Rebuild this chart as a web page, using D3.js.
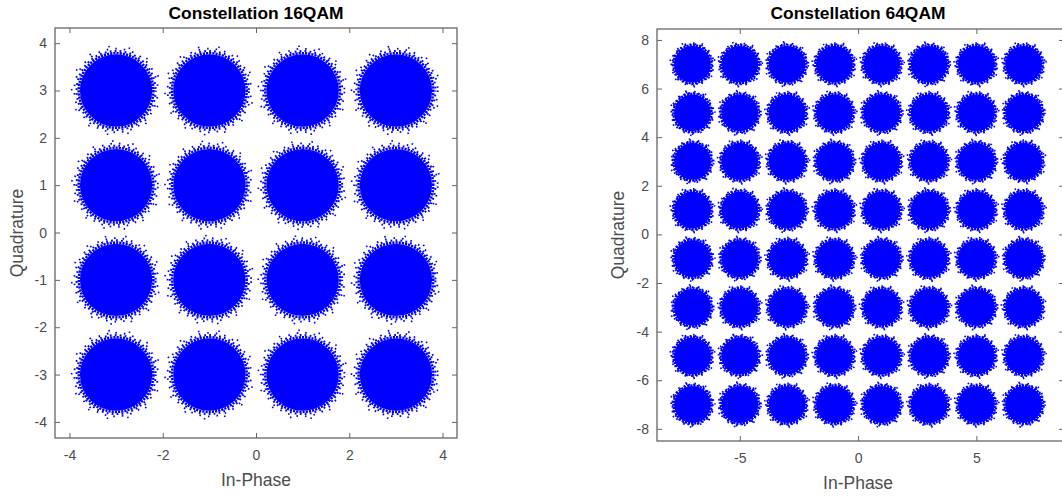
<!DOCTYPE html>
<html>
<head>
<meta charset="utf-8">
<script src="https://cdn.jsdelivr.net/npm/d3@7"></script>
<style>
  html, body { margin: 0; padding: 0; background: #fff; }
  svg { display: block; font-family: "Liberation Sans", Arial, Helvetica, sans-serif; }
</style>
</head>
<body>
<svg id="chart" width="1062" height="498"></svg>
<script>
// ---- data ----
const levels16 = [-3, -1, 1, 3];
const levels64 = [-7, -5, -3, -1, 1, 3, 5, 7];
const clusterRadius16 = 0.8;   // spread of each noisy cluster (data units)
const clusterRadius64 = 0.8;
const xTicks16 = [-4, -2, 0, 2, 4];
const yTicks16 = [-4, -3, -2, -1, 0, 1, 2, 3, 4];
const xTicks64 = [-5, 0, 5];
const yTicks64 = [-8, -6, -4, -2, 0, 2, 4, 6, 8];
const titles = ["Constellation 16QAM", "Constellation 64QAM"];
const xLabel = "In-Phase";
const yLabel = "Quadrature";

const svg = d3.select("#chart");
const BLUE = "#0000ff";
const AXIS = "#666666";
const TEXT = "#4d4d4d";

function grid(levels) {
  const pts = [];
  levels.forEach(i => levels.forEach(q => pts.push({i, q})));
  return pts;
}

// fringe rings: [radius factor, stroke width, dash pattern]
const fringe = [
  [1.00, 2.6, "2.2 1.0"],
  [1.06, 2.0, "1.8 3.2"],
  [1.12, 1.8, "1.6 7"],
  [1.19, 1.6, "1.6 19"]
];

function panel(cfg) {
  const g = svg.append("g");
  const x = d3.scaleLinear().domain(cfg.xDomain).range([cfg.left, cfg.right]);
  const y = d3.scaleLinear().domain(cfg.yDomain).range([cfg.bottom, cfg.top]);
  const clipId = "clip" + cfg.id;
  svg.append("clipPath").attr("id", clipId).append("rect")
    .attr("x", cfg.left).attr("y", cfg.top)
    .attr("width", cfg.right - cfg.left).attr("height", cfg.bottom - cfg.top);

  const pts = grid(cfg.levels);
  const pxR = Math.abs(x(cfg.r) - x(0));
  const marks = g.append("g").attr("clip-path", `url(#${clipId})`);
  // dense core
  marks.selectAll("circle.core").data(pts).join("circle")
    .attr("class", "core")
    .attr("cx", d => x(d.i)).attr("cy", d => y(d.q))
    .attr("r", pxR * 0.97)
    .attr("fill", BLUE);
  // speckled fringe
  fringe.forEach((f, k) => {
    marks.selectAll("circle.ring" + k).data(pts).join("circle")
      .attr("class", "ring" + k)
      .attr("cx", d => x(d.i)).attr("cy", d => y(d.q))
      .attr("r", pxR * f[0])
      .attr("fill", "none").attr("stroke", BLUE).attr("stroke-width", f[1])
      .attr("stroke-dasharray", f[2])
      .attr("stroke-dashoffset", (d, j) => (j * 3.7 + k * 5.3) % 11);
  });

  // axes (ticks inside, box on)
  const tl = 5;
  const fmt = d => d < 0 ? "-" + Math.abs(d) : d;
  const bottomAxis = d3.axisBottom(x).tickValues(cfg.xTicks).tickSize(-tl).tickFormat(fmt);
  const leftAxis = d3.axisLeft(y).tickValues(cfg.yTicks).tickSize(-tl).tickFormat(fmt);
  const topAxis = d3.axisTop(x).tickValues(cfg.xTicks).tickSize(-tl).tickFormat("");
  const rightAxis = d3.axisRight(y).tickValues(cfg.yTicks).tickSize(-tl).tickFormat("");

  function style(sel) {
    sel.select(".domain").remove();
    sel.selectAll(".tick line").attr("stroke", AXIS);
    sel.selectAll(".tick text").attr("fill", TEXT).attr("font-size", 14)
      .attr("font-family", "'Liberation Sans', Arial, sans-serif");
  }
  g.append("g").attr("transform", `translate(0,${cfg.bottom})`).call(bottomAxis).call(style)
    .selectAll(".tick text").attr("dy", null).attr("y", 22);
  g.append("g").attr("transform", `translate(${cfg.left},0)`).call(leftAxis).call(style)
    .selectAll(".tick text").attr("x", -8);
  g.append("g").attr("transform", `translate(0,${cfg.top})`).call(topAxis).call(style);
  g.append("g").attr("transform", `translate(${cfg.right},0)`).call(rightAxis).call(style);

  g.append("rect")
    .attr("x", cfg.left).attr("y", cfg.top)
    .attr("width", cfg.right - cfg.left).attr("height", cfg.bottom - cfg.top)
    .attr("fill", "none").attr("stroke", AXIS).attr("stroke-width", 1.3);

  // labels
  g.append("text").attr("x", cfg.titleX).attr("y", 18.5)
    .attr("text-anchor", "middle").attr("font-weight", "bold").attr("font-size", 17.4)
    .attr("fill", "#000").text(cfg.title);
  g.append("text").attr("x", x(0)).attr("y", cfg.xLabelY)
    .attr("text-anchor", "middle").attr("font-size", 17.5).attr("fill", TEXT).text(xLabel);
  g.append("text")
    .attr("transform", `translate(${cfg.yLabelX},${cfg.yLabelCY}) rotate(-90)`)
    .attr("text-anchor", "middle").attr("font-size", 17.5).attr("fill", TEXT).text(yLabel);
}

panel({
  id: 1, levels: levels16, r: clusterRadius16,
  xDomain: [-4.31, 4.31], yDomain: [-4.34, 4.32],
  left: 55, right: 457, top: 28, bottom: 438,
  xTicks: xTicks16, yTicks: yTicks16,
  title: titles[0], titleX: 256, xLabelY: 486, yLabelX: 23, yLabelCY: 233
});

panel({
  id: 2, levels: levels64, r: clusterRadius64,
  xDomain: [-8.5, 8.5 + (1064 - 1059.2) / 23.67], yDomain: [-8.5, 8.45],
  left: 657, right: 1064, top: 29, bottom: 441,
  xTicks: xTicks64, yTicks: yTicks64,
  title: titles[1], titleX: 858, xLabelY: 489, yLabelX: 624, yLabelCY: 235
});
</script>
</body>
</html>
